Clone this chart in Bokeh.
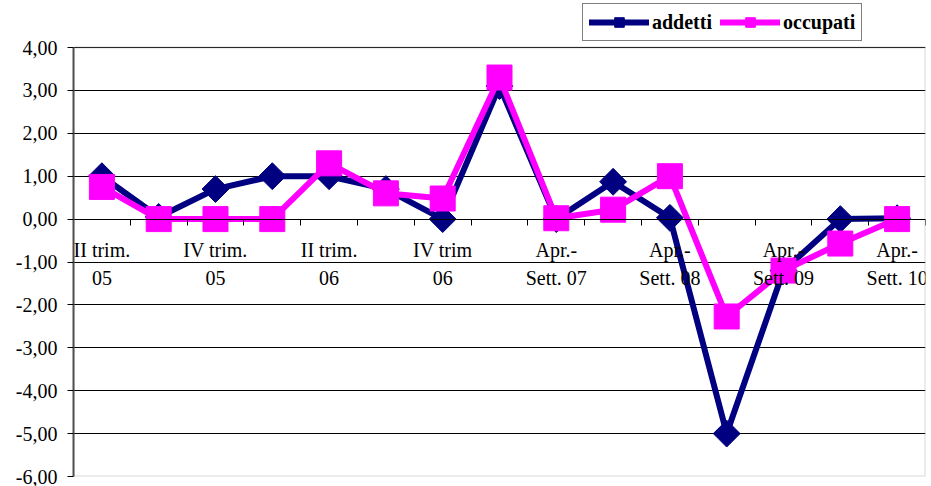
import numpy as np
from bokeh.plotting import figure
from bokeh.models import (ColumnDataSource, FixedTicker, Range1d, Legend, LegendItem, BoxAnnotation)
from bokeh.embed import file_html
from bokeh.resources import INLINE

# ---- data ----
periods = list(range(15))
x_tick_labels = ["II trim.\n05", "", "IV trim.\n05", "", "II trim.\n06", "",
                 "IV trim\n06", "", "Apr.-\nSett. 07", "", "Apr.-\nSett. 08", "",
                 "Apr.-\nSett. 09", "", "Apr.-\nSett. 10"]
addetti = [1.0, 0.05, 0.7, 1.0, 1.0, 0.7, 0.0, 3.1, 0.0, 0.87, 0.03, -5.0, -1.2, 0.0, 0.02]
occupati = [0.75, 0.0, 0.0, 0.0, 1.3, 0.6, 0.48, 3.3, 0.02, 0.22, 1.0, -2.27, -1.2, -0.57, 0.0]
y_ticks = [-6, -5, -4, -3, -2, -1, 0, 1, 2, 3, 4]
y_tick_labels = ["-6,00", "-5,00", "-4,00", "-3,00", "-2,00", "-1,00",
                 "0,00", "1,00", "2,00", "3,00", "4,00"]

FONT = "Liberation Serif"

Y_MIN, Y_MAX = -6, 4
PLOT_H = 429          # pixel height of the value area
TOP_PAD = 47          # room above the value area for the legend
frame_h = PLOT_H + TOP_PAD
y_top = Y_MAX + TOP_PAD * (Y_MAX - Y_MIN) / PLOT_H

src = ColumnDataSource(dict(x=periods, addetti=addetti, occupati=occupati))

p = figure(output_backend="svg", toolbar_location=None,
           frame_width=852, frame_height=frame_h,
           x_range=Range1d(-0.5, 14.5), y_range=Range1d(Y_MIN, y_top))
p.min_border_left = 73
p.min_border_right = 6
p.min_border_top = 0
p.min_border_bottom = 10
p.background_fill_color = "white"
p.border_fill_color = "white"
p.outline_line_color = None

# x axis at y=0
xa = p.xaxis[0]
xa.fixed_location = 0
xa.ticker = FixedTicker(ticks=[i for i in periods if x_tick_labels[i]],
                        minor_ticks=[i - 0.5 for i in range(16)])
xa.major_label_overrides = {i: x_tick_labels[i] for i in periods if x_tick_labels[i]}
xa.major_tick_line_color = None
xa.minor_tick_line_color = "black"
xa.minor_tick_in = 0
xa.minor_tick_out = 6
xa.axis_line_color = "black"
xa.axis_line_width = 1
xa.major_label_standoff = 14
xa.major_label_text_font = FONT
xa.major_label_text_font_size = "20px"
xa.major_label_text_color = "black"
xa.major_label_text_line_height = 1.26

ya = p.yaxis[0]
ya.bounds = (Y_MIN, Y_MAX)
ya.ticker = FixedTicker(ticks=y_ticks, minor_ticks=[])
ya.major_label_overrides = dict(zip(y_ticks, y_tick_labels))
ya.major_label_text_font = FONT
ya.major_label_text_font_size = "20px"
ya.major_label_text_color = "black"
ya.major_tick_in = 0
ya.major_tick_out = 6
ya.major_tick_line_color = "black"
ya.axis_line_color = "#505050"
ya.axis_line_width = 2
ya.major_label_standoff = 10

p.xgrid.grid_line_color = None
p.ygrid.grid_line_color = "black"
p.ygrid.grid_line_width = 1

# plot-area border
p.add_layout(BoxAnnotation(left=-0.5, right=14.5, bottom=Y_MIN, top=Y_MAX,
                           fill_alpha=0, line_color="#808080", line_width=2,
                           level="underlay"))

NAVY = "#000080"
MAG = "#FF00FF"

l1 = p.line("x", "addetti", source=src, line_color=NAVY, line_width=6, line_join="round", line_cap="round")
m1 = p.scatter("x", "addetti", source=src, marker="square", angle=np.pi / 4, size=19,
               fill_color=NAVY, line_color=NAVY)
l2 = p.line("x", "occupati", source=src, line_color=MAG, line_width=6, line_join="round", line_cap="round")
m2 = p.scatter("x", "occupati", source=src, marker="square", size=25,
               fill_color=MAG, line_color=MAG)

legend = Legend(items=[LegendItem(label="addetti", renderers=[l1, m1]),
                       LegendItem(label="occupati", renderers=[l2, m2])],
                orientation="horizontal", location=(509, 435))
legend.label_text_font = FONT
legend.label_text_font_size = "20px"
legend.label_text_font_style = "bold"
legend.label_text_color = "black"
legend.glyph_width = 60
legend.glyph_height = 24
legend.label_height = 24
legend.label_standoff = 3
legend.spacing = 8
legend.padding = 6
legend.margin = 0
legend.border_line_color = "black"
legend.border_line_width = 1
legend.background_fill_alpha = 1
p.add_layout(legend, "center")

open("out.html", "w").write(file_html(p, INLINE))
